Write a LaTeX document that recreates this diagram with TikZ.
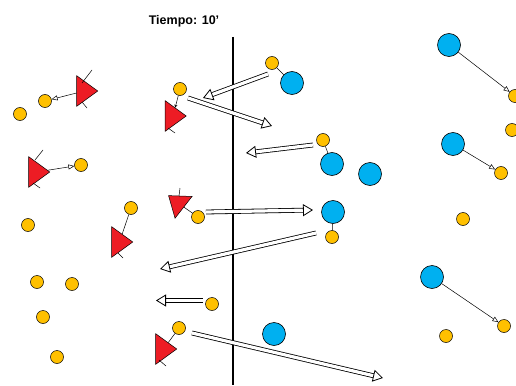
\documentclass[tikz,border=0pt]{standalone}
\usepackage{fontspec}
\setmainfont{Liberation Sans}
\usetikzlibrary{arrows.meta,shapes.geometric}
\definecolor{amarillo}{HTML}{FFC000}
\definecolor{azul}{HTML}{00B0F0}
\definecolor{rojo}{HTML}{ED1C24}

\begin{document}
\begin{tikzpicture}[x=1pt,y=-1pt,
  chico/.style={shape=circle,draw=black,fill=amarillo,minimum size=13pt,inner sep=0pt,line width=0.5pt},
  grande/.style={shape=circle,draw=black,fill=azul,minimum size=23pt,inner sep=0pt,line width=0.6pt},
  tri/.style={isosceles triangle,isosceles triangle apex angle=72,draw=black,fill=rojo,inner sep=0pt,minimum height=21pt,line width=0.5pt},
  doble/.style={double,double distance=3.2pt,line width=0.8pt,-{Triangle[open,length=10pt,width=12pt]}},
  fina/.style={line width=0.5pt,-{Triangle[open,length=6pt,width=5pt]}}]
\useasboundingbox (0,0) rectangle (516,385);
\node (titulo) at (184,21) {\fontsize{12.5}{14}\selectfont\bfseries Tiempo: 10'};
\coordinate (arriba) at (233,37);
\coordinate (abajo) at (233,385);
\draw[line width=2.2pt] (arriba) -- (abajo);

\node[tri] (t1) at (84.5,91) {};
\node[tri] (t2) at (36.5,172) {};
\node[tri] (t3) at (173,116) {};
\node[tri,rotate=142,minimum height=19pt] (t4) at (178,203) {};
\node[tri] (t5) at (119.5,242) {};
\node[tri] (t6) at (163.5,349) {};

\node[chico] (y1) at (20,114) {};
\node[chico] (y2) at (45,101) {};
\node[chico] (y3) at (81,165) {};
\node[chico] (y4) at (28,225) {};
\node[chico] (y5) at (37,282) {};
\node[chico] (y6) at (72,284) {};
\node[chico] (y7) at (43,317) {};
\node[chico] (y8) at (57,357) {};
\node[chico] (y9) at (180,89) {};
\node[chico] (y10) at (131,208) {};
\node[chico] (y11) at (198,217) {};
\node[chico] (y12) at (212,304) {};
\node[chico] (y13) at (179,328) {};
\node[chico] (y14) at (272,63) {};
\node[chico] (y15) at (323,140) {};
\node[chico] (y16) at (332,237) {};
\node[chico] (y17) at (463,219) {};
\node[chico] (y18) at (515,96) {};
\node[chico] (y19) at (512,130) {};
\node[chico] (y20) at (501,173) {};
\node[chico] (y21) at (446,336) {};
\node[chico] (y22) at (504,326) {};

\node[grande] (b1) at (292,83) {};
\node[grande] (b2) at (332,164) {};
\node[grande] (b3) at (370,174) {};
\node[grande] (b4) at (333,212) {};
\node[grande] (b5) at (274,334) {};
\node[grande] (b6) at (449,45) {};
\node[grande] (b7) at (453,144) {};
\node[grande] (b8) at (432,277) {};

\draw[line width=0.5pt] (82,83) -- (92,70);
\draw[line width=0.5pt] (82,102) -- (87,108);
\draw[line width=0.5pt] (35,160) -- (43,150);
\draw[line width=0.5pt] (33,183) -- (40,188);
\draw[line width=0.5pt] (168,128) -- (175,133);
\draw[line width=0.5pt] (180,188) -- (179,196);
\draw[line width=0.5pt] (118,253) -- (123,258);
\draw[line width=0.5pt] (159,360) -- (166,366);

\path [draw,line width=0.5pt] (y14) -- (b1);
\path [draw,line width=0.5pt] (y15) -- (b2);
\path [draw,line width=0.5pt] (b4) -- (y16);
\path [draw,line width=0.5pt] (y10) -- (t5);
\path [draw,line width=0.5pt] (t4) -- (y11);
\path [draw,line width=0.5pt] (y13) -- (t6);
\path [draw,line width=0.5pt,-{Stealth[length=3pt,width=3pt]}] (y9) -- (t3);

\path [fina] (t1) edge (y2);
\path [fina] (t2) edge (y3);
\path [fina] (b6) edge (y18);
\path [fina] (b7) edge (y20);
\path [fina] (b8) edge (y22);

\coordinate (a1) at (268,74);
\coordinate (a1f) at (203,98);
\coordinate (a2) at (188,98);
\coordinate (a2f) at (272,126);
\coordinate (a3) at (313,145);
\coordinate (a3f) at (246,153);
\coordinate (a4) at (206,212);
\coordinate (a4f) at (313,210);
\coordinate (a5) at (316,233);
\coordinate (a5f) at (160,269);
\coordinate (a6) at (203,300.5);
\coordinate (a6f) at (156,300.5);
\coordinate (a7) at (192,333);
\coordinate (a7f) at (383,378);
\draw[doble] (a1) -- (a1f);
\draw[doble] (a2) -- (a2f);
\draw[doble] (a3) -- (a3f);
\draw[doble] (a4) -- (a4f);
\draw[doble] (a5) -- (a5f);
\draw[doble] (a6) -- (a6f);
\draw[doble] (a7) -- (a7f);
\end{tikzpicture}
\end{document}
